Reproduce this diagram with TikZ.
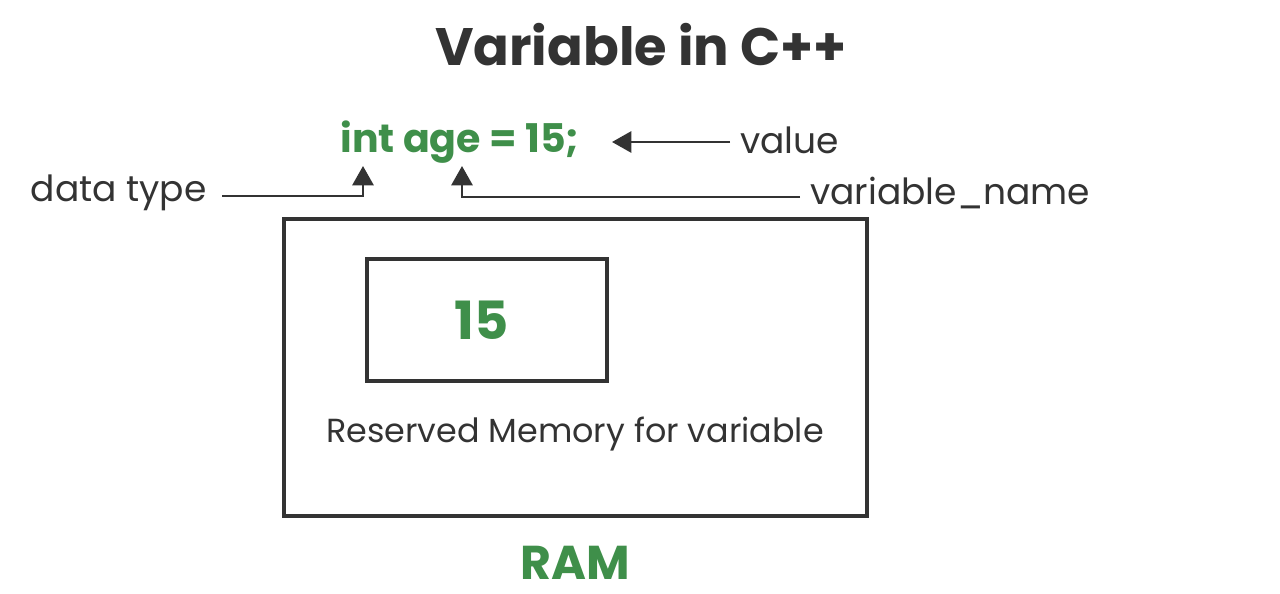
\documentclass[tikz,border=0pt]{standalone}
\usepackage{fontspec}
\setmainfont{Poppins}
\usetikzlibrary{arrows.meta,positioning}
\definecolor{ink}{HTML}{333333}
\definecolor{leaf}{HTML}{3F8F4A}
\tikzset{
  every node/.style={text=ink, inner sep=0pt},
  codetext/.style={text=leaf, font=\fontsize{22.5}{26}\selectfont\bfseries},
  labeltext/.style={font=\fontsize{20.5}{24}\selectfont},
  membox/.style={draw=ink, line width=2.3pt},
  pointer/.style={draw=ink, line width=1.5pt,
    -{Triangle[length=11pt,width=12pt]}},
}

\begin{document}
\begin{tikzpicture}[x=0.02cm,y=-0.02cm]
\useasboundingbox (0,0) rectangle (1280,594);
% heading
\node[font=\fontsize{30}{35}\selectfont\bfseries] (title) at (641,45) {Variable in C++};
% declaration line
\node[codetext, anchor=west] (code) at (340,142) {int age = 15;};
\node[labeltext, anchor=west] (value) at (740,140) {value};
\node[labeltext, anchor=east] (dtype) at (207,193) {data type};
\node[labeltext, anchor=west] (vname) at (810,193) {variable\_name};
\coordinate (inttip) at (363,166);
\coordinate (agetip) at (462,166);
\coordinate (eqend) at (612,142);
\draw[pointer] (value.west) ++(-10,2) -- (eqend);
\draw[pointer] (dtype.east) ++(15,3) -| (inttip);
\draw[pointer] (vname.west) ++(-10,4) -| (agetip);
% memory
\node[membox, minimum width=11.66cm, minimum height=5.94cm] (ram) at (575.5,367.5) {};
\node[membox, minimum width=4.8cm, minimum height=2.44cm] (cell) at (487,320) {};
\node[codetext, font=\fontsize{30}{34}\selectfont\bfseries] (num) at (482,320) {15};
\node[labeltext, font=\fontsize{19}{22}\selectfont] (note) at (575,434) {Reserved Memory for variable};
\node[codetext, font=\fontsize{27}{31}\selectfont\bfseries] (ramlbl) at (575,563) {RAM};
\end{tikzpicture}
\end{document}
